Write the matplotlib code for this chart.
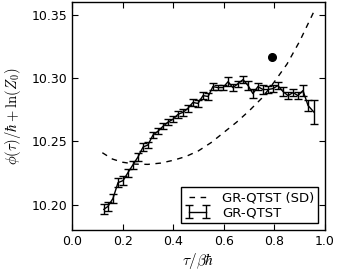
import numpy as np
import matplotlib
matplotlib.use("Agg")
import matplotlib.pyplot as plt

plt.rcParams['mathtext.fontset'] = 'cm'
plt.rcParams['font.family'] = 'DejaVu Sans'

# GR-QTST values with error bars
tau = [0.126, 0.142, 0.162, 0.182, 0.202, 0.221, 0.241, 0.261, 0.281, 0.300,
       0.320, 0.340, 0.360, 0.379, 0.399, 0.419, 0.439, 0.458, 0.478, 0.498,
       0.518, 0.538, 0.557, 0.577, 0.597, 0.617, 0.636, 0.656, 0.676, 0.696,
       0.715, 0.735, 0.755, 0.775, 0.794, 0.814, 0.834, 0.854, 0.874, 0.893,
       0.913, 0.933, 0.957]
phi = [10.1963, 10.1986, 10.2049, 10.2174, 10.2190, 10.2252, 10.2315, 10.2377,
       10.2455, 10.2471, 10.2549, 10.2580, 10.2619, 10.2651, 10.2674, 10.2713,
       10.2729, 10.2760, 10.2807, 10.2799, 10.2861, 10.2854, 10.2932, 10.2924,
       10.2924, 10.2971, 10.2924, 10.2955, 10.2987, 10.2940, 10.2877, 10.2932,
       10.2909, 10.2909, 10.2916, 10.2940, 10.2893, 10.2861, 10.2885, 10.2861,
       10.2901, 10.2783, 10.2729]
err = [0.004, 0.0035, 0.0035, 0.0035, 0.0035, 0.003, 0.003, 0.003, 0.003, 0.0025,
       0.0025, 0.0025, 0.0025, 0.0025, 0.0025, 0.0025, 0.003, 0.0025, 0.003, 0.0025,
       0.0025, 0.0025, 0.0025, 0.002, 0.002, 0.0035, 0.0025, 0.0025, 0.003, 0.0035,
       0.0035, 0.0025, 0.0035, 0.0025, 0.0025, 0.0025, 0.0035, 0.0025, 0.0025, 0.0025,
       0.0045, 0.0045, 0.0095]

# GR-QTST (SD) curve
tau_sd = [0.12, 0.16, 0.20, 0.25, 0.30, 0.35, 0.40, 0.45, 0.50, 0.55,
          0.60, 0.65, 0.70, 0.75, 0.80, 0.85, 0.90, 0.96]
phi_sd = [10.241, 10.236, 10.2335, 10.232, 10.2318, 10.2328, 10.235, 10.238,
          10.2425, 10.249, 10.257, 10.265, 10.274, 10.284, 10.297, 10.311,
          10.329, 10.354]

# single point
dot_tau = [0.789]
dot_phi = [10.3169]

fig = plt.figure(figsize=(3.37, 2.80), dpi=100)
ax = fig.add_axes([0.2136, 0.1786, 0.7507, 0.8143])

ax.plot(tau_sd, phi_sd, color='black', linestyle=(0, (4, 4)), linewidth=1,
        label='GR-QTST (SD)')
ax.errorbar(tau, phi, yerr=err, color='black', linewidth=1, capsize=3,
            elinewidth=1, capthick=1, label='GR-QTST')
ax.plot(dot_tau, dot_phi, 'o', color='black', markersize=5.5)

ax.set_xlim(0, 1)
ax.set_ylim(10.18, 10.36)
ax.set_xticks([0.0, 0.2, 0.4, 0.6, 0.8, 1.0])
ax.set_yticks([10.20, 10.25, 10.30, 10.35])
ax.tick_params(direction='in', top=True, right=True, length=4, labelsize=9)
for s in ax.spines.values():
    s.set_linewidth(1)

ax.set_xlabel(r'$\tau/\beta\hbar$', fontsize=11, labelpad=2)
ax.set_ylabel(r'$\phi(\tau)/\hbar+\ln(Z_0)$', fontsize=10.5, labelpad=6)

leg = ax.legend(loc='lower right', fontsize=9.5, fancybox=False, framealpha=1,
                edgecolor='black', borderaxespad=0.5, handlelength=1.9,
                handletextpad=0.9, borderpad=0.3, labelspacing=0.15,
                numpoints=2)
leg.get_frame().set_linewidth(1)

fig.savefig('out.png', dpi=100)
